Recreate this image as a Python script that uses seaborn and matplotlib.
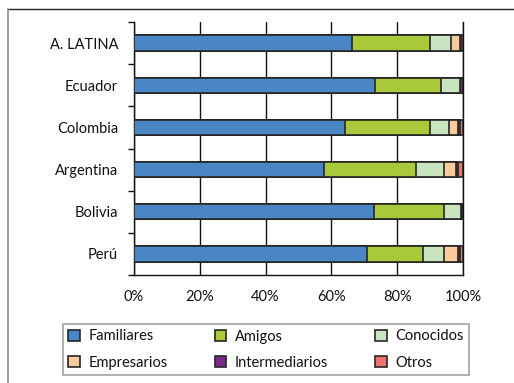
import matplotlib
matplotlib.use("Agg")
import matplotlib.pyplot as plt
import matplotlib.transforms as mtransforms
from matplotlib.patches import Patch
from matplotlib.lines import Line2D
import seaborn as sns
import pandas as pd
import numpy as np

regions = ["A. LATINA", "Ecuador", "Colombia", "Argentina", "Bolivia", "Perú"]
series = ["Familiares", "Amigos", "Conocidos", "Empresarios", "Intermediarios", "Otros"]
familiares = [66.4, 73.4, 64.2, 57.8, 72.8, 70.7]
amigos = [23.5, 19.8, 25.7, 27.9, 21.4, 17.0]
conocidos = [6.4, 5.9, 5.9, 8.5, 5.2, 6.5]
empresarios = [2.8, 0.0, 2.8, 3.7, 0.0, 4.2]
intermediarios = [0.2, 0.9, 0.5, 0.5, 0.6, 0.8]
otros = [0.7, 0.0, 0.9, 1.6, 0.0, 0.8]
xticks = [0, 20, 40, 60, 80, 100]
xtick_labels = ["0%", "20%", "40%", "60%", "80%", "100%"]

colors = ["#4a86c6", "#a9c93a", "#c9e5c0", "#f9cb9a", "#7a2a88", "#ea7470"]

sns.set_style("white")
plt.rcParams["font.family"] = ["Lato", "DejaVu Sans"]

df = pd.DataFrame({"region": regions, "Familiares": familiares, "Amigos": amigos,
                   "Conocidos": conocidos, "Empresarios": empresarios,
                   "Intermediarios": intermediarios, "Otros": otros})
cum = df[series].cumsum(axis=1)
cum["region"] = df["region"]

fig = plt.figure(figsize=(5.14, 3.83), dpi=100)
ax = fig.add_axes([134/514, 1-275/383, (463-134)/514, (275-22)/383])

edge = "#262626"
for s, c in reversed(list(zip(series, colors))):
    sns.barplot(data=cum, x=s, y="region", order=regions, orient="h", color=c,
                width=0.36, edgecolor=edge, linewidth=1.2, saturation=1, ax=ax, zorder=3)

ax.set_xlim(0, 100)
ax.set_ylim(5.5, -0.5)
ax.set_xlabel("")
ax.set_ylabel("")
ax.set_xticks(xticks)
ax.set_xticklabels(xtick_labels, fontsize=10.5, color="#111111")
offset = mtransforms.ScaledTranslation(3/100, 0, fig.dpi_scale_trans)
for lab in ax.get_xticklabels():
    lab.set_transform(lab.get_transform() + offset)
ax.tick_params(axis="x", length=0, pad=11)
ax.set_yticks(range(len(regions)))
ax.set_yticklabels(regions, fontsize=10.5, color="#111111")
ax.tick_params(axis="y", which="major", length=0, pad=11.5)
ax.set_yticks(np.arange(-0.5, 5.6, 1), minor=True)
ax.tick_params(axis="y", which="minor", length=4.5, width=1, color="#111111", direction="out", left=True)

ax.grid(axis="x", color="#111111", linewidth=1)
ax.grid(axis="y", visible=False)
ax.set_axisbelow(True)
for side in ["left", "bottom", "right"]:
    ax.spines[side].set_visible(True)
    ax.spines[side].set_color("#111111")
    ax.spines[side].set_linewidth(1)
ax.spines["top"].set_visible(False)

handles = {s: Patch(facecolor=c, edgecolor=edge, linewidth=1.2, label=s) for s, c in zip(series, colors)}
# matplotlib fills legend columns first; reorder so rows read like the reference
order = [0, 3, 1, 4, 2, 5]
leg_handles = [handles[series[i]] for i in order]
leg = fig.legend(handles=leg_handles, ncol=3, loc="lower left",
                 bbox_to_anchor=(63/514, 1-375/383, (469-63)/514, 54/383), mode="expand",
                 fontsize=10.5, frameon=True, fancybox=False,
                 handlelength=0.8, handleheight=0.8, handletextpad=0.6,
                 borderaxespad=0, borderpad=0.35, labelspacing=0.85, columnspacing=1.0)
leg.get_frame().set_edgecolor("#8a8a8a")
leg.get_frame().set_linewidth(1.2)
for t in leg.get_texts():
    t.set_color("#111111")

fig.add_artist(Line2D([8/514, 1], [1-9/383, 1-9/383], transform=fig.transFigure, color="#222222", linewidth=1))
fig.add_artist(Line2D([8/514, 8/514], [0, 1-9/383], transform=fig.transFigure, color="#8a8a8a", linewidth=1.2))

fig.savefig("out.png", dpi=100)
